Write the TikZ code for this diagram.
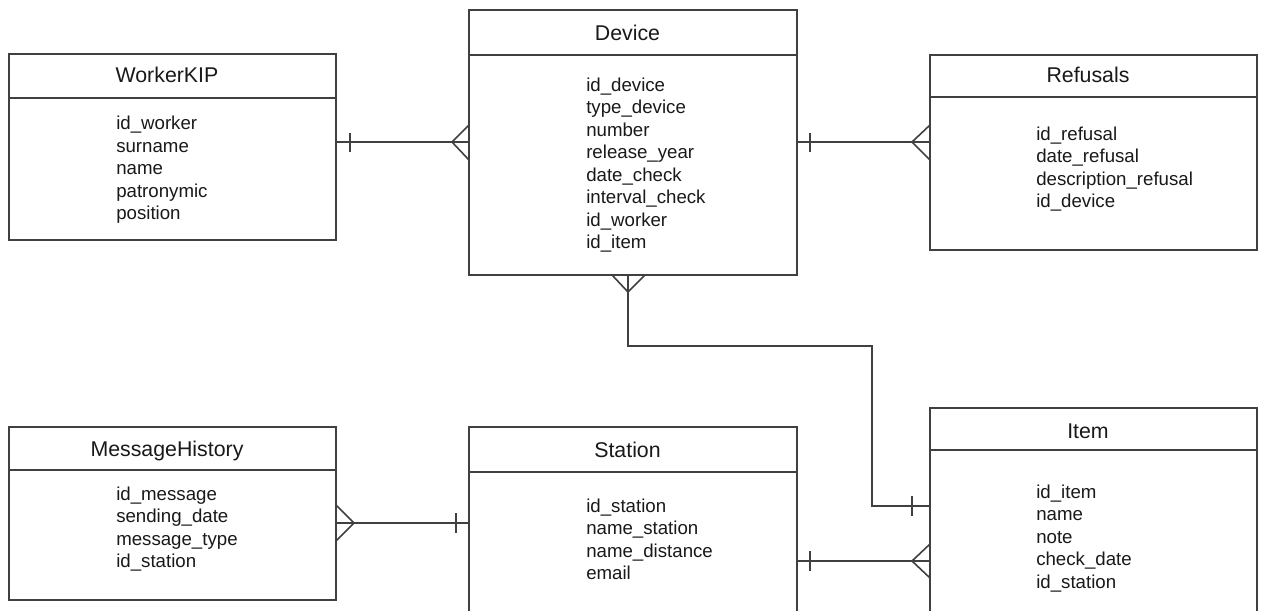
\documentclass[tikz,border=0pt]{standalone}
\usepackage{fontspec}
\setmainfont{Liberation Sans}
\begin{document}
\begin{tikzpicture}[x=0.75pt,y=-0.75pt,
  entity/.style={draw=black!75, line width=1.1pt, anchor=north west, inner sep=0pt, outer sep=0pt},
  hdr/.style={draw=black!75, line width=1.1pt},
  conn/.style={draw=black!75, line width=1.2pt},
  ttl/.style={anchor=base, inner sep=0pt, font=\fontsize{16}{19}\selectfont, text=black!90},
  attr/.style={anchor=base west, inner sep=0pt, font=\fontsize{14}{17}\selectfont, text=black!90}]
\clip (0,0) rectangle (1262,610);
\fill[white] (0,0) rectangle (1262,610);

% entity boxes
\node[entity, minimum width={327*0.75pt}, minimum height={186*0.75pt}] (wk) at (9,54) {};
\node[entity, minimum width={328*0.75pt}, minimum height={265*0.75pt}] (dev) at (469,10) {};
\node[entity, minimum width={327*0.75pt}, minimum height={195*0.75pt}] (ref) at (930,55) {};
\node[entity, minimum width={327*0.75pt}, minimum height={173*0.75pt}] (mh) at (9,427) {};
\node[entity, minimum width={328*0.75pt}, minimum height={210*0.75pt}] (st) at (469,427) {};
\node[entity, minimum width={327*0.75pt}, minimum height={230*0.75pt}] (it) at (930,408) {};

% header lines
\draw[hdr] (wk.west |- 0,98) -- (wk.east |- 0,98);
\draw[hdr] (dev.west |- 0,55) -- (dev.east |- 0,55);
\draw[hdr] (ref.west |- 0,97) -- (ref.east |- 0,97);
\draw[hdr] (mh.west |- 0,470) -- (mh.east |- 0,470);
\draw[hdr] (st.west |- 0,472) -- (st.east |- 0,472);
\draw[hdr] (it.west |- 0,450) -- (it.east |- 0,450);

% titles
\node[ttl] (wkt) at (167,83) {WorkerKIP};
\node[ttl] (devt) at (627.5,40.5) {Device};
\node[ttl] (reft) at (1088,83) {Refusals};
\node[ttl] (mht) at (167,456.5) {MessageHistory};
\node[ttl] (stt) at (627.5,457.5) {Station};
\node[ttl] (itt) at (1088,438) {Item};

% attributes
\foreach \t [count=\i] in {id\_worker,surname,name,patronymic,position}
  \node[attr] (wka\i) at (116,{129.5+22.5*(\i-1)}) {\t};
\foreach \t [count=\i] in {id\_device,type\_device,number,release\_year,date\_check,interval\_check,id\_worker,id\_item}
  \node[attr] (deva\i) at (586,{91+22.5*(\i-1)}) {\t};
\foreach \t [count=\i] in {id\_refusal,date\_refusal,description\_refusal,id\_device}
  \node[attr] (refa\i) at (1036,{140+22.5*(\i-1)}) {\t};
\foreach \t [count=\i] in {id\_message,sending\_date,message\_type,id\_station}
  \node[attr] (mha\i) at (116,{500+22.5*(\i-1)}) {\t};
\foreach \t [count=\i] in {id\_station,name\_station,name\_distance,email}
  \node[attr] (sta\i) at (586,{512+22.5*(\i-1)}) {\t};
\foreach \t [count=\i] in {id\_item,name,note,check\_date,id\_station}
  \node[attr] (ita\i) at (1036,{498+22.5*(\i-1)}) {\t};

% WorkerKIP -- Device
\draw[conn] (wk.east |- 0,142) -- (dev.west |- 0,142);
\draw[conn] (350,133) -- (350,152);
\draw[conn] (dev.west |- 0,125) -- (452,142) -- (dev.west |- 0,160);

% Device -- Refusals
\draw[conn] (dev.east |- 0,142) -- (ref.west |- 0,142);
\draw[conn] (810,133) -- (810,152);
\draw[conn] (ref.west |- 0,125) -- (912,142) -- (ref.west |- 0,160);

% Device -- Item
\coordinate (di1) at (628,346);
\coordinate (di2) at (872,506);
\draw[conn] (dev.south -| di1) -- (di1) -| (di2) -- (di2 -| it.west);
\draw[conn] (612,275) -- (628,292) -- (645,275);
\draw[conn] (912,496) -- (912,516);

% MessageHistory -- Station
\draw[conn] (mh.east |- 0,523) -- (st.west |- 0,523);
\draw[conn] (456,513) -- (456,533);
\draw[conn] (mh.east |- 0,505) -- (354,523) -- (mh.east |- 0,541);

% Station -- Item
\draw[conn] (st.east |- 0,561) -- (it.west |- 0,561);
\draw[conn] (810,551) -- (810,571);
\draw[conn] (it.west |- 0,544) -- (912,561) -- (it.west |- 0,578);
\end{tikzpicture}
\end{document}
